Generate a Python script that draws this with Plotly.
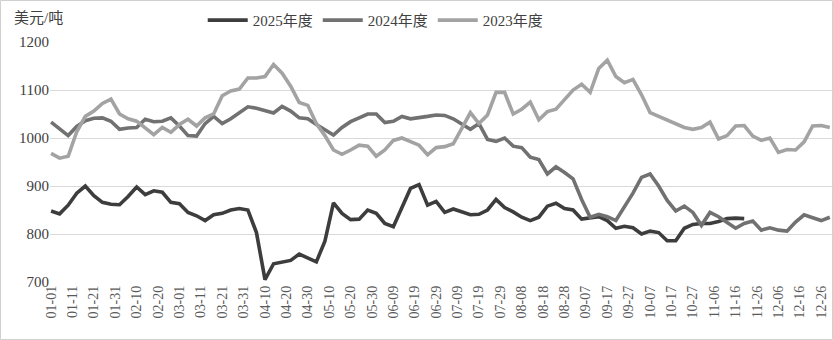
import pandas as pd
import plotly.graph_objects as go

# Sample days (day-of-year, every 4 days) on a shared leap-year calendar
sample_days = list(range(1, 366, 4))

price_2025 = [
    848, 842, 860, 885, 900, 880, 866, 862, 861, 878, 898, 882, 890, 887, 866, 863,
    845, 838, 828, 840, 843, 850, 853, 850, 803, 705, 738, 742, 745, 758, 750, 742,
    785, 865, 843, 830, 831, 850, 843, 822, 815, 857, 895, 903, 860, 868, 845, 852,
    845, 840, 841, 850, 872, 855, 846, 835, 828, 835, 858, 864, 853, 850, 831, 834,
    836, 828, 812, 816, 813, 800, 806, 803, 786, 786, 812, 820, 822, 822, 826, 832,
    833, 832,
]

price_2024 = [
    1033, 1018, 1005, 1024, 1036, 1041, 1042, 1035, 1018, 1021, 1022, 1039, 1034, 1035, 1042, 1025,
    1005, 1004, 1030, 1045, 1030, 1040, 1052, 1065, 1062, 1057, 1052, 1066, 1056, 1042, 1040, 1028,
    1018, 1006, 1022, 1034, 1042, 1050, 1050, 1032, 1035, 1045, 1040, 1042, 1045, 1048, 1047, 1040,
    1030, 1018, 1030, 997, 993, 1000, 983, 980, 960, 955, 925, 940, 928, 915, 872, 835,
    841, 836, 828, 855, 885, 918, 925, 900, 870, 848, 858, 845, 818, 845, 836, 824,
    812, 822, 827, 808, 813, 808, 806, 825, 840, 834, 828, 835,
]

price_2023 = [
    968, 958, 962, 1013, 1045, 1056, 1072, 1081, 1050, 1040, 1035, 1020, 1007, 1022, 1012, 1028,
    1039, 1025, 1042, 1050, 1088, 1098, 1102, 1125, 1125, 1128, 1153, 1135, 1108, 1074, 1068, 1030,
    1005, 975, 966, 975, 985, 983, 962, 975, 995, 1000, 992, 985, 965, 980, 982, 988,
    1020, 1053, 1030, 1048, 1095, 1095, 1050, 1060, 1075, 1038, 1055, 1060, 1080, 1100, 1112, 1095,
    1145, 1162, 1128, 1115, 1122, 1090, 1053, 1045, 1036, 1030, 1022, 1018, 1022, 1033, 998, 1005,
    1025, 1026, 1004, 995, 1000, 970, 976, 975, 992, 1025, 1026, 1022,
]

series_names = ["2025年度", "2024年度", "2023年度"]
series_colors = ["#3d3d3d", "#717171", "#a3a3a3"]

base = pd.Timestamp("2024-01-01")
dates = [base + pd.Timedelta(days=d - 1) for d in sample_days]

fig = go.Figure()
for name, values, color in zip(series_names, [price_2025, price_2024, price_2023], series_colors):
    fig.add_trace(go.Scatter(
        x=dates[:len(values)], y=values, name=name, mode="lines",
        line=dict(color=color, width=3.6),
    ))

text_font = "Liberation Serif, Noto Sans CJK SC, serif"

fig.update_layout(
    width=833, height=340,
    margin=dict(l=50, r=0, t=42, b=58),
    paper_bgcolor="white", plot_bgcolor="white",
    font=dict(family=text_font, size=14, color="#404040"),
    showlegend=True,
    legend=dict(
        orientation="h", x=0.416, xanchor="center", y=1.09, yanchor="middle",
        font=dict(family=text_font, size=15, color="#404040"),
        itemwidth=40, tracegroupgap=0, bgcolor="rgba(0,0,0,0)",
    ),
    xaxis=dict(
        type="date",
        range=[base - pd.Timedelta(hours=12), base + pd.Timedelta(days=365, hours=12)],
        tick0="2024-01-01", dtick=10 * 86400000, tickformat="%m-%d",
        tickangle=-90, ticks="", showgrid=False,
        showline=False, zeroline=False,
        tickfont=dict(family=text_font, size=14, color="#595959"),
    ),
    yaxis=dict(
        range=[700, 1200], dtick=100, tick0=700,
        showgrid=True, gridcolor="#d9d9d9", gridwidth=1,
        zeroline=False, showline=False, ticks="",
        tickfont=dict(family=text_font, size=15, color="#404040"),
    ),
    annotations=[dict(
        text="美元/吨", xref="paper", yref="paper",
        x=-38 / 783, y=1 + 24 / 240, xanchor="left", yanchor="middle",
        showarrow=False, font=dict(family=text_font, size=15, color="#404040"),
    )],
    shapes=[dict(
        type="rect", xref="paper", yref="paper", layer="below",
        x0=-49.5 / 783, x1=782.5 / 783, y0=-57.5 / 240, y1=1 + 41.5 / 240,
        line=dict(color="#d0d0d0", width=1), fillcolor="rgba(0,0,0,0)",
    )],
)

fig.write_html("out.html")
